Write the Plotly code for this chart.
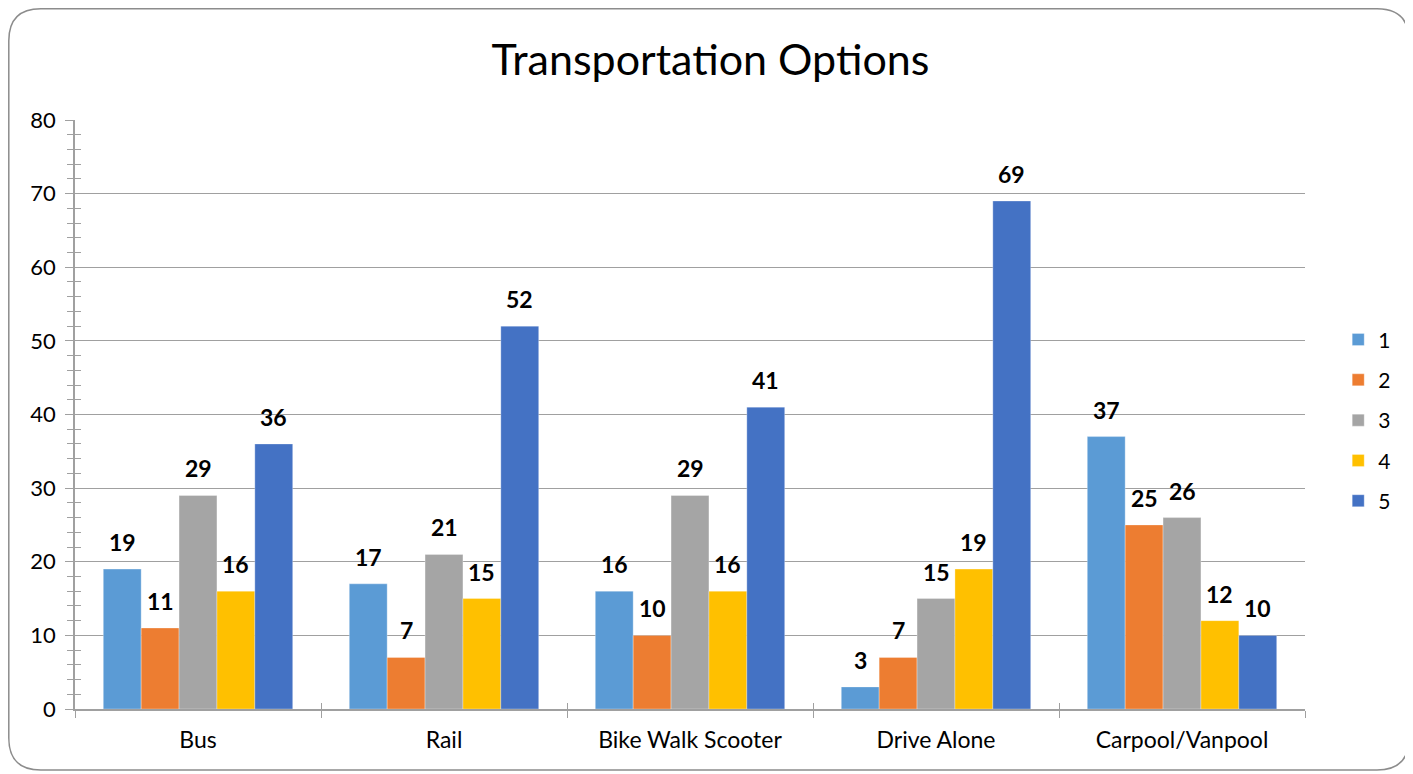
import plotly.graph_objects as go

categories = ["Bus", "Rail", "Bike Walk Scooter", "Drive Alone", "Carpool/Vanpool"]
series_names = ["1", "2", "3", "4", "5"]
s1 = [19, 17, 16, 3, 37]
s2 = [11, 7, 10, 7, 25]
s3 = [29, 21, 29, 15, 26]
s4 = [16, 15, 16, 19, 12]
s5 = [36, 52, 41, 69, 10]
series_values = [s1, s2, s3, s4, s5]
colors = ["#5B9BD5", "#ED7D31", "#A5A5A5", "#FFC000", "#4472C4"]

# page is rendered with an 8px body margin, so figure px = page px - 8
W, H = 1405, 766
ML, MR, MT, MB = 67, 108, 112, 65
BARGAP = 0.23
FONT = "Lato"
AXIS_GRAY = "#A0A0A0"

fig = go.Figure()
for name, vals, col in zip(series_names, series_values, colors):
    fig.add_trace(go.Bar(
        x=categories, y=vals, name=name, legendgroup=name,
        marker=dict(color=col, line=dict(color="rgba(255,255,255,0.6)", width=0.5)),
    ))

# invisible helper trace on overlay axes, used only to draw inner halves of crossing ticks
fig.add_trace(go.Scatter(x=categories, y=s5, xaxis="x2", yaxis="y2", mode="markers",
                         marker=dict(opacity=0), showlegend=False, hoverinfo="skip"))

plot_w = W - ML - MR
plot_h = H - MT - MB
bar_px = plot_w / len(categories) * (1 - BARGAP) / len(series_names)
annotations = []
for i, vals in enumerate(series_values):
    for cat, v in zip(categories, vals):
        annotations.append(dict(
            x=cat, y=v, xref="x", yref="y", text=f"<b>{v}</b>", showarrow=False,
            xshift=(i - 2) * bar_px, yshift=27, yanchor="middle",
            font=dict(family=FONT, size=23, color="#000000"),
        ))

# rounded frame around the whole chart, in paper coordinates
def px_x(p):
    return (p - ML) / plot_w
def px_y(p):
    return (H - MB - p) / plot_h
x0, x1 = px_x(0.8), px_x(1401)
y0, y1 = px_y(762), px_y(0.8)
rx, ry = 32 / plot_w, 32 / plot_h
path = (f"M {x0+rx},{y1} L {x1-rx},{y1} Q {x1},{y1} {x1},{y1-ry} "
        f"L {x1},{y0+ry} Q {x1},{y0} {x1-rx},{y0} L {x0+rx},{y0} "
        f"Q {x0},{y0} {x0},{y0+ry} L {x0},{y1-ry} Q {x0},{y1} {x0+rx},{y1} Z")

fig.update_layout(
    width=W, height=H,
    margin=dict(l=ML, r=MR, t=MT, b=MB),
    paper_bgcolor="white", plot_bgcolor="white",
    barmode="group", bargap=BARGAP, bargroupgap=0,
    font=dict(family=FONT, size=20, color="#000000"),
    title=dict(text="Transportation Options", x=0.5, xanchor="center",
               y=1 - 52 / H, yanchor="middle",
               font=dict(family=FONT, size=43, color="#000000")),
    legend=dict(x=1.027, y=0.49, xanchor="left", yanchor="middle",
                font=dict(family=FONT, size=21), tracegroupgap=10,
                bgcolor="rgba(0,0,0,0)"),
    annotations=annotations,
    shapes=[dict(type="path", path=path, xref="paper", yref="paper",
                 line=dict(color="#8C8C8C", width=1.5), layer="above")],
    xaxis=dict(showline=True, linecolor=AXIS_GRAY, linewidth=1.5,
               ticks="outside", tickson="boundaries", ticklen=7, tickcolor=AXIS_GRAY,
               ticklabelstandoff=10, tickfont=dict(family=FONT, size=23)),
    yaxis=dict(range=[0, 80], dtick=10, showline=True, linecolor=AXIS_GRAY, linewidth=1.5,
               showgrid=True, gridcolor=AXIS_GRAY, gridwidth=1,
               ticks="outside", ticklen=8, tickcolor=AXIS_GRAY,
               ticklabelstandoff=5, tickfont=dict(family=FONT, size=22),
               minor=dict(dtick=2, ticks="outside", ticklen=6, tickcolor=AXIS_GRAY,
                          showgrid=False),
               zeroline=False),
    xaxis2=dict(overlaying="x", matches="x", side="bottom", anchor="y2",
                showline=False, showgrid=False, showticklabels=False, zeroline=False,
                ticks="inside", tickson="boundaries", ticklen=6, tickcolor=AXIS_GRAY),
    yaxis2=dict(overlaying="y", range=[0, 80], dtick=10, side="left", anchor="x2",
                showline=False, showgrid=False, showticklabels=False, zeroline=False,
                ticks="", minor=dict(dtick=2, ticks="inside", ticklen=6,
                                     tickcolor=AXIS_GRAY, showgrid=False)),
)

fig.write_html("out.html")
